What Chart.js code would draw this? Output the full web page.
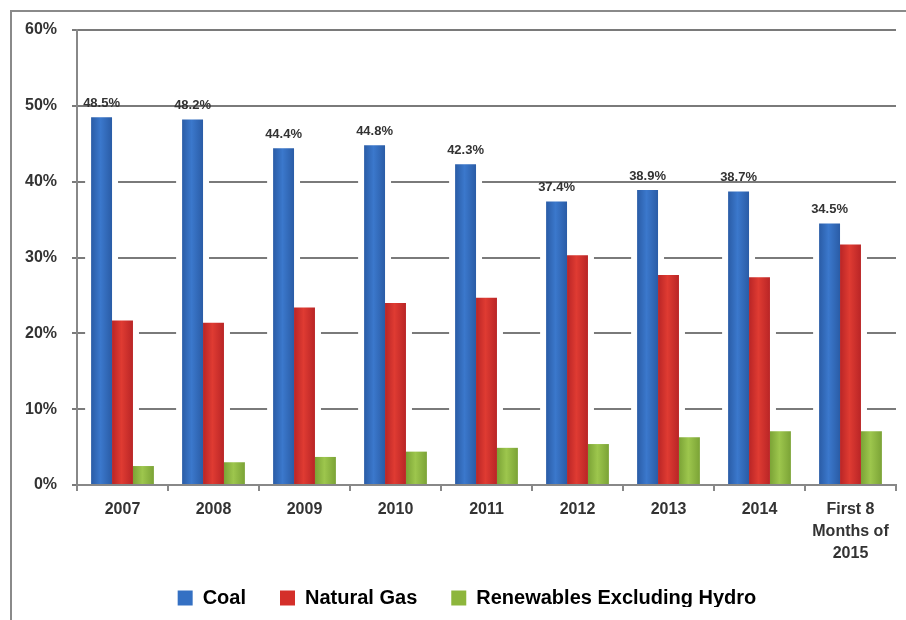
<!DOCTYPE html>
<html>
<head>
<meta charset="utf-8">
<script src="https://cdn.jsdelivr.net/npm/chart.js@4/dist/chart.umd.min.js"></script>
<style>
  html, body { margin: 0; padding: 0; background: #fff; }
  #frame { position: absolute; left: 10px; top: 10px; width: 896px; height: 610px;
           border-left: 2px solid #8a8a8a; border-top: 2px solid #8a8a8a; box-sizing: border-box; }
  #wrap { position: absolute; left: 12px; top: 12px; width: 894px; height: 608px; }
</style>
</head>
<body>
<div id="frame"></div>
<div id="wrap"><canvas id="c" width="894" height="608"></canvas></div>
<script>
const categories = ['2007', '2008', '2009', '2010', '2011', '2012', '2013', '2014', ['First 8', 'Months of', '2015']];
const seriesNames = ['Coal', 'Natural Gas', 'Renewables Excluding Hydro'];
const coal = [48.5, 48.2, 44.4, 44.8, 42.3, 37.4, 38.9, 38.7, 34.5];
const naturalGas = [21.7, 21.4, 23.4, 24.0, 24.7, 30.3, 27.7, 27.4, 31.7];
const renewables = [2.5, 3.0, 3.7, 4.4, 4.9, 5.4, 6.3, 7.1, 7.1];
const coalLabels = ['48.5%', '48.2%', '44.4%', '44.8%', '42.3%', '37.4%', '38.9%', '38.7%', '34.5%'];
const yTickValues = [0, 10, 20, 30, 40, 50, 60];

const FONT = "'Liberation Sans', Arial, sans-serif";
const CAT_PCT = 0.69;
const palettes = [
  { edge: '#2a5ca6', mid: '#3b78cc', solid: '#3470c3' },
  { edge: '#b92526', mid: '#df3b32', solid: '#d42f2a' },
  { edge: '#7ba336', mid: '#9dc64d', solid: '#8db63c' }
];

function barFill(ctx) {
  const p = palettes[ctx.datasetIndex];
  const chart = ctx.chart;
  const xs = chart.scales && chart.scales.x;
  if (!chart.chartArea || !xs || ctx.dataIndex === undefined) return p.solid;
  const catW = xs.width / chart.data.labels.length;
  const bw = catW * CAT_PCT / chart.data.datasets.length;
  const cx = xs.getPixelForValue(ctx.dataIndex) + (ctx.datasetIndex - 1) * bw;
  if (!isFinite(cx)) return p.solid;
  const g = chart.ctx.createLinearGradient(cx - bw / 2, 0, cx + bw / 2, 0);
  g.addColorStop(0, p.edge);
  g.addColorStop(0.45, p.mid);
  g.addColorStop(1, p.edge);
  return g;
}

const glowPlugin = {
  id: 'glow',
  beforeDatasetsDraw(chart) {
    const ctx = chart.ctx;
    ctx.save();
    ctx.fillStyle = '#ffffff';
    chart.data.datasets.forEach((ds, i) => {
      const meta = chart.getDatasetMeta(i);
      meta.data.forEach(el => {
        const w = el.width;
        ctx.fillRect(el.x - w / 2 - 6, el.y, w + 12, el.base - el.y - 1);
      });
    });
    ctx.restore();
  }
};

const labelPlugin = {
  id: 'coalLabels',
  afterDatasetsDraw(chart) {
    const ctx = chart.ctx;
    const meta = chart.getDatasetMeta(0);
    ctx.save();
    ctx.font = 'bold 13px ' + FONT;
    ctx.fillStyle = '#333333';
    ctx.textAlign = 'center';
    ctx.textBaseline = 'middle';
    meta.data.forEach((el, i) => {
      ctx.fillText(coalLabels[i], el.x, el.y - 14);
    });
    ctx.restore();
  }
};

const legendShift = {
  id: 'legendShift',
  afterLayout(chart) {
    const lg = chart.legend;
    if (!lg) return;
    lg.left += 13; lg.right += 13;
    lg.top -= 13; lg.bottom -= 13;
  }
};

new Chart(document.getElementById('c'), {
  type: 'bar',
  data: {
    labels: categories,
    datasets: [
      { label: seriesNames[0], data: coal, backgroundColor: barFill },
      { label: seriesNames[1], data: naturalGas, backgroundColor: barFill },
      { label: seriesNames[2], data: renewables, backgroundColor: barFill }
    ]
  },
  options: {
    responsive: false,
    animation: false,
    layout: { padding: { left: 0, right: 10, top: 18, bottom: 0 } },
    datasets: { bar: { barPercentage: 1.0, categoryPercentage: CAT_PCT, borderWidth: 0 } },
    plugins: {
      legend: {
        position: 'bottom',
        maxHeight: 53,
        labels: {
          boxWidth: 15, boxHeight: 15, padding: 34,
          color: '#222222',
          font: { family: FONT, size: 20, weight: 'bold' },
          generateLabels(chart) {
            return chart.data.datasets.map((ds, i) => ({
              text: ds.label, fillStyle: palettes[i].solid, strokeStyle: palettes[i].solid,
              lineWidth: 0, hidden: false, datasetIndex: i
            }));
          }
        }
      },
      tooltip: { enabled: false }
    },
    scales: {
      x: {
        grid: { display: true, drawOnChartArea: false, drawTicks: true, tickLength: 6, color: '#888888', lineWidth: 2 },
        border: { display: true, color: '#888888', width: 2 },
        ticks: { color: '#333333', padding: 8, maxRotation: 0, autoSkip: false,
                 font: { family: FONT, size: 16, weight: 'bold', lineHeight: 1.375 } },
        afterFit(scale) { scale.height = 82; scale.paddingLeft = 0; scale.paddingRight = 0; }
      },
      y: {
        min: 0, max: 60,
        afterBuildTicks(scale) { scale.ticks = yTickValues.map(v => ({ value: v })); },
        grid: { color: '#7a7a7a', lineWidth: 2, drawTicks: true, tickLength: 5 },
        border: { display: true, color: '#888888', width: 2 },
        ticks: { color: '#333333', padding: 15, callback: v => v + '%',
                 font: { family: FONT, size: 16, weight: 'bold' } },
        afterFit(scale) { scale.width = 65; scale.paddingTop = 0; scale.paddingBottom = 0; }
      }
    }
  },
  plugins: [glowPlugin, labelPlugin, legendShift]
});
</script>
</body>
</html>
